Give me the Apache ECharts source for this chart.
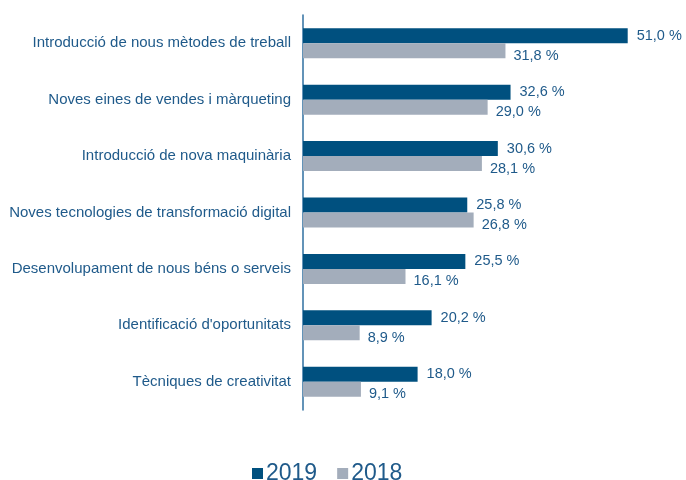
<!DOCTYPE html>
<html>
<head>
<meta charset="utf-8">
<script src="https://cdn.jsdelivr.net/npm/echarts@6/dist/echarts.min.js"></script>
<style>
  html, body { margin: 0; padding: 0; background: #fff; }
  #chart { width: 686px; height: 480px; }
</style>
</head>
<body>
<div id="chart"></div>
<script>
// categories, top to bottom
const categories = [
  'Introducció de nous mètodes de treball',
  'Noves eines de vendes i màrqueting',
  'Introducció de nova maquinària',
  'Noves tecnologies de transformació digital',
  'Desenvolupament de nous béns o serveis',
  "Identificació d'oportunitats",
  'Tècniques de creativitat'
]
const values2019 = [51.0, 32.6, 30.6, 25.8, 25.5, 20.2, 18.0]
const values2018 = [31.8, 29.0, 28.1, 26.8, 16.1, 8.9, 9.1]

const textColor = '#1f5a8a'
const fmt = (p) => p.value.toFixed(1).replace('.', ',') + ' %'

const chart = echarts.init(document.getElementById('chart'))
chart.setOption({
  animation: false,
  textStyle: { fontFamily: 'Liberation Sans, Arial, sans-serif' },
  grid: { left: 303, right: 1, top: 15, bottom: 70 },
  legend: {
    top: 457,
    left: 247,
    icon: 'rect',
    itemWidth: 11,
    itemHeight: 11,
    itemGap: 20,
    textStyle: { fontSize: 23, color: textColor, padding: [0, 0, 0, -2] },
    data: ['2019', '2018']
  },
  xAxis: {
    type: 'value',
    min: 0,
    max: 60,
    show: false
  },
  yAxis: {
    type: 'category',
    inverse: true,
    data: categories,
    axisTick: { show: false },
    axisLine: { lineStyle: { color: '#2f6fa0', width: 1.5 } },
    axisLabel: { color: textColor, fontSize: 15, margin: 12 }
  },
  series: [
    {
      name: '2019',
      type: 'bar',
      data: values2019,
      barWidth: 15,
      barGap: '0%',
      itemStyle: { color: '#00507f' },
      label: { show: true, position: 'right', distance: 9, color: textColor, fontSize: 14.5, formatter: fmt }
    },
    {
      name: '2018',
      type: 'bar',
      data: values2018,
      barWidth: 15,
      itemStyle: { color: '#a3adbb' },
      label: { show: true, position: 'right', distance: 8, offset: [0, 5], color: textColor, fontSize: 14.5, formatter: fmt }
    }
  ]
})
</script>
</body>
</html>
